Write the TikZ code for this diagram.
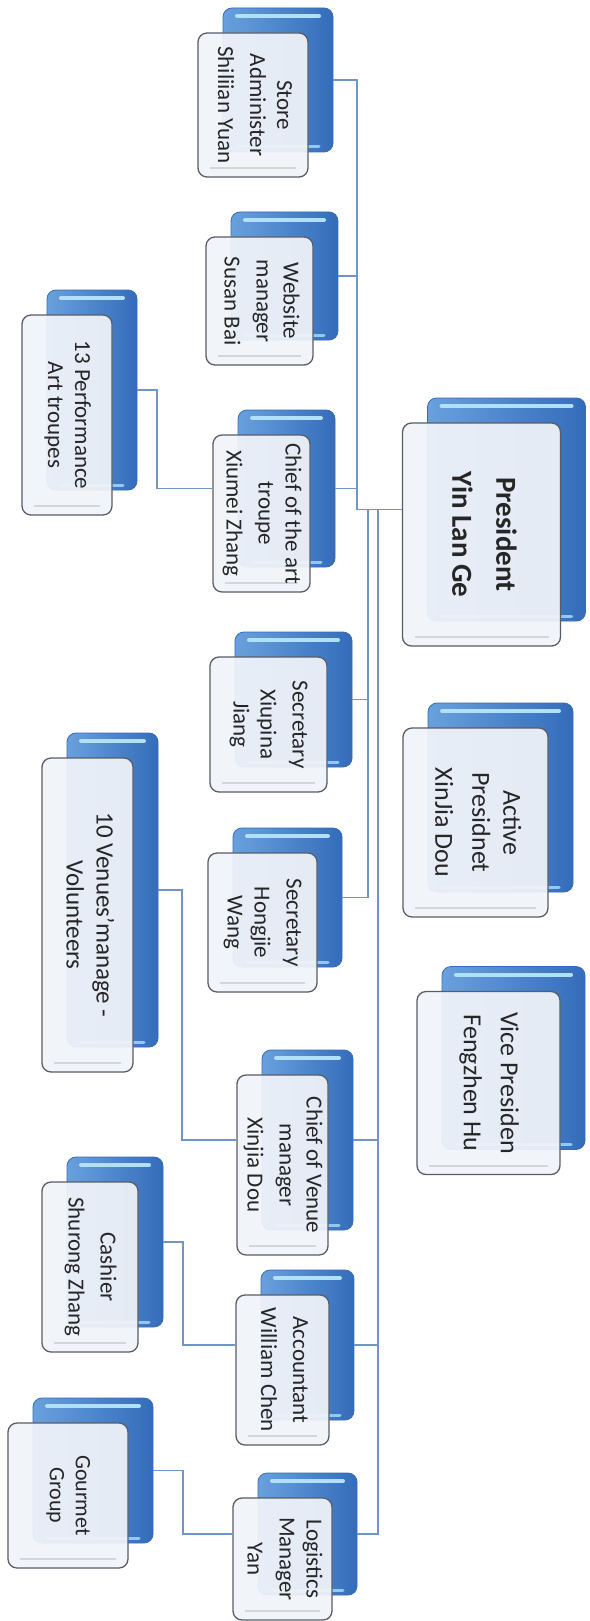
\documentclass[tikz,border=0pt]{standalone}
\usepackage{fontspec}
\setmainfont{Carlito}
\usepackage{xcolor}
\usepackage{tikz}
\usetikzlibrary{calc}

\definecolor{boxblue}{RGB}{78,144,216}
\definecolor{boxbluedark}{RGB}{52,108,186}
\definecolor{boxshine}{RGB}{176,224,250}
\definecolor{cardfill}{RGB}{241,244,249}
\definecolor{cardedge}{RGB}{88,94,104}
\definecolor{linkblue}{RGB}{112,150,198}

\tikzset{
  backbox/.style={rounded corners=9pt, left color=boxblue!85!white, right color=boxbluedark,
    draw=boxbluedark, line width=0.8pt, inner sep=0pt,
    path picture={
      \draw[boxshine, line width=4pt, line cap=round]
        ([xshift=14pt,yshift=-8pt]path picture bounding box.north west) --
        ([xshift=-14pt,yshift=-8pt]path picture bounding box.north east);
      \draw[boxshine!70!boxblue, line width=3pt, line cap=round]
        ([xshift=14pt,yshift=5pt]path picture bounding box.south west) --
        ([xshift=-14pt,yshift=5pt]path picture bounding box.south east);
    }},
  card/.style={rounded corners=9pt, fill=cardfill, fill opacity=0.93, text opacity=1,
    draw=cardedge, line width=1.3pt, inner sep=0pt, text=black!85,
    font=\fontsize{23}{27}\selectfont,
    path picture={
      \draw[black!16, line width=2pt]
        ([xshift=12pt,yshift=9pt]path picture bounding box.south west) --
        ([xshift=-12pt,yshift=9pt]path picture bounding box.south east);
    }},
  link/.style={draw=linkblue, line width=1.6pt},
}

% name, x, y, width, height, lines
\newcommand{\orgcard}[7][]{%
  \node[backbox, minimum width=#5pt, minimum height=#6pt] (#2) at (#3,#4) {};
  \node[card, minimum width=#5pt, minimum height=#6pt, #1] (#2-f)
    at ([xshift=-25pt,yshift=-25pt]#2.center)
    {\rotatebox{-90}{\begin{tabular}{@{}c@{}}#7\end{tabular}}};
}

\begin{document}
\begin{tikzpicture}[x=1pt, y=-1pt]
  \fill[white] (0,0) rectangle (589,1621);
  \useasboundingbox (0,0) rectangle (589,1621);

  \orgcard[font=\bfseries\fontsize{29}{36}\selectfont]{pres}{506.5}{509.5}{158}{223}{President\\[8pt] Yin Lan Ge}
  \orgcard[font=\fontsize{26}{31}\selectfont]{active}{500.5}{797.5}{145}{189}{Active\\ Presidnet\\[6pt] XinJia Dou}
  \orgcard[font=\fontsize{26}{31}\selectfont]{vice}{513.5}{1058}{143}{183}{Vice Presiden\\[6pt] Fengzhen Hu}

  \orgcard{store}{278}{80}{110}{144}{Store\\ Administer\\[5pt] Shiliian Yuan}
  \orgcard{web}{284.5}{276}{107}{128}{Website\\ manager\\[5pt] Susan Bai}
  \orgcard{chiefart}{286.5}{488.5}{97}{157}{Chief of the art\\ troupe\\[5pt] Xiumei Zhang}
  \orgcard{secx}{293.5}{699.5}{117}{135}{Secretary\\[5pt] Xiupina\\ Jiang}
  \orgcard{sech}{287.5}{897.5}{109}{139}{Secretary\\[5pt] Hongjie\\ Wang}
  \orgcard{chiefv}{307.5}{1140}{91}{180}{Chief of Venue\\ manager\\[5pt] Xinjia Dou}
  \orgcard{acct}{307.5}{1345}{93}{150}{Accountant\\[5pt] William Chen}
  \orgcard{logi}{307.5}{1534}{99}{122}{Logistics\\ Manager\\[5pt] Yan}

  \orgcard{perf}{92}{390}{90}{200}{13 Performance\\ Art troupes}
  \orgcard[font=\fontsize{25}{30}\selectfont]{venues}{112.5}{890}{91}{314}{10 Venues'manage -\\ Volunteers}
  \orgcard{cashier}{115}{1242}{96}{170}{Cashier\\[5pt] Shurong Zhang}
  \orgcard[font=\fontsize{22}{26}\selectfont]{gourmet}{93}{1470.5}{120}{145}{Gourmet\\ Group}

  \coordinate (busup) at (357,0);
  \coordinate (bussec) at (368,0);
  \coordinate (buslow) at (378,0);
  \coordinate (busperf) at (157,0);
  \coordinate (busvenue) at (182,0);
  \coordinate (buscash) at (183,0);
  \coordinate (busgour) at (183,0);

  \foreach \c in {store,web,chiefart}
    \draw[link] (pres-f.west |- pres) -- (busup |- pres) |- (\c.east);
  \foreach \c in {secx,sech}
    \draw[link] (pres-f.west |- pres) -- (bussec |- pres) |- (\c.east);
  \foreach \c in {chiefv,acct,logi}
    \draw[link] (pres-f.west |- pres) -- (buslow |- pres) |- (\c.east);

  \draw[link] (chiefart-f.west |- chiefart) -- (busperf |- chiefart) |- (perf.east);
  \draw[link] (chiefv-f.west |- chiefv) -- (busvenue |- chiefv) |- (venues.east);
  \draw[link] (acct-f.west |- acct) -- (buscash |- acct) |- (cashier.east);
  \draw[link] (logi-f.west |- logi) -- (busgour |- logi) |- (gourmet.east);
\end{tikzpicture}
\end{document}
